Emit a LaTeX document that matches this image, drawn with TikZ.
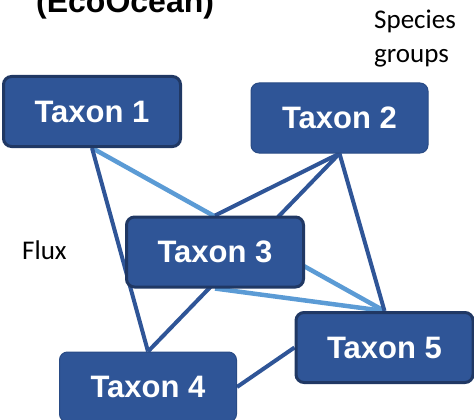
\documentclass[tikz,border=0pt]{standalone}
\usepackage{fontspec}
\setmainfont{Liberation Sans}
\newfontfamily\calibrifont{Carlito}
\usetikzlibrary{backgrounds}
\definecolor{taxonblue}{HTML}{2F5597}
\definecolor{taxonedge}{HTML}{203864}
\definecolor{fluxlight}{HTML}{5B9BD5}

\begin{document}
\begin{tikzpicture}[x=1pt, y=-1pt,
    taxon/.style={draw=taxonblue!88!black, line width=1pt, fill=taxonblue,
      rounded corners=8pt, minimum width=177pt, minimum height=70pt,
      text=white, font=\fontsize{31}{36}\selectfont\bfseries},
    strongtaxon/.style={taxon, draw=taxonedge, line width=3pt},
    darkflux/.style={taxonblue, line width=4pt},
    lightflux/.style={fluxlight, line width=4.5pt},
    label/.style={font=\calibrifont\fontsize{27}{34}\selectfont, inner sep=0pt}]
  \useasboundingbox (0, 0) rectangle (474, 420);

  \node[anchor=base west, inner sep=0pt, font=\fontsize{32}{38}\selectfont\bfseries]
    (title) at (36, 13) {(EcoOcean)};
  \node[label, anchor=north west, align=left] (groups) at (374, 10) {Species\\groups};
  \node[label, anchor=base west] (flux) at (22, 259) {Flux};

  \node[strongtaxon] (t1) at (92, 111.5) {Taxon 1};
  \node[taxon] (t2) at (339.5, 118) {Taxon 2};
  \node[strongtaxon] (t3) at (215, 252) {Taxon 3};
  \node[taxon] (t4) at (148, 387) {Taxon 4};
  \node[strongtaxon] (t5) at (384.5, 347.5) {Taxon 5};

  \begin{scope}[on background layer]
    \draw[lightflux] (t1.south) -- (t5.north);
    \draw[lightflux] (t3.south) -- (t5.north);
    \draw[darkflux] (t1.south) -- (t4.north);
    \draw[darkflux] (t2.south) -- (t3.north);
    \draw[darkflux] (t2.south) -- (t4.north);
    \draw[darkflux] (t2.south) -- (t5.north);
    \draw[darkflux] (t4.east) -- (t5.west);
  \end{scope}
\end{tikzpicture}
\end{document}
